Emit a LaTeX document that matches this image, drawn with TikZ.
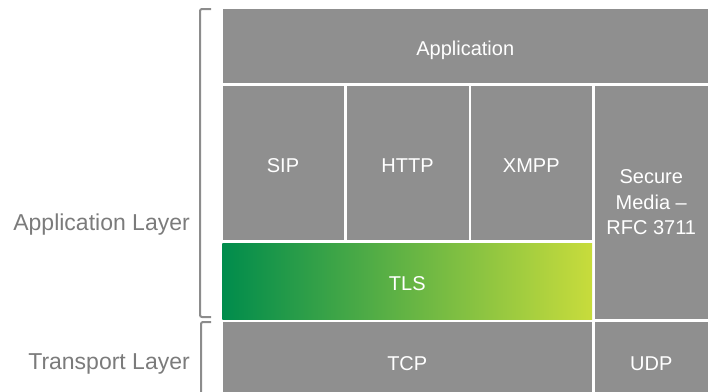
\documentclass[tikz,border=0pt]{standalone}
\usepackage{fontspec}
\setmainfont{Liberation Sans}
\definecolor{blockgray}{HTML}{8F8F8F}
\definecolor{labelgray}{HTML}{7B7B7B}
\definecolor{bracketgray}{HTML}{8C8C8C}
\definecolor{tlsleft}{RGB}{0,140,76}
\definecolor{tlsright}{RGB}{200,220,60}
\tikzset{
  blk/.style={fill=blockgray, draw=none, inner sep=0pt, text=white,
    font=\fontsize{20}{25.5}\selectfont, align=center},
  oneline/.style={text height=20pt, text depth=1.5pt},
  layerlabel/.style={anchor=east, inner sep=0pt, text=labelgray,
    font=\fontsize{23}{27}\selectfont},
  bracket/.style={draw=bracketgray, line width=2pt, rounded corners=2pt}
}
\begin{document}
\begin{tikzpicture}[x=1pt,y=-1pt]
\useasboundingbox (0,0) rectangle (708,391);
\clip (0,0) rectangle (708,391);
% protocol stack blocks
\node[blk, oneline, minimum width=485.5pt, minimum height=74pt] (app) at (465.25,46) {Application};
\node[blk, oneline, minimum width=121pt, minimum height=154pt] (sip) at (283,163) {SIP};
\node[blk, oneline, minimum width=122pt, minimum height=154pt] (http) at (407.5,163) {HTTP};
\node[blk, oneline, minimum width=121.5pt, minimum height=154pt] (xmpp) at (531.25,163) {XMPP};
\node[blk, minimum width=113.5pt, minimum height=233pt] (srtp) at (651.25,202.5) {Secure\\Media –\\RFC 3711};
\node[blk, fill=none, minimum width=369.5pt, minimum height=75.5pt] (tls) at (407.25,281.25) {};
\shade[left color=tlsleft, right color=tlsright] (tls.south west) rectangle (tls.north east);
\node[blk, oneline, fill=none] (tlstext) at (tls.center) {TLS};
\node[blk, oneline, minimum width=369.5pt, minimum height=78pt] (tcp) at (407.25,361) {TCP};
\node[blk, oneline, minimum width=113.5pt, minimum height=78pt] (udp) at (651.25,361) {UDP};
% layer brackets
\coordinate (ua) at (211,9);
\coordinate (ub) at (211,317);
\coordinate (la) at (211,322);
\coordinate (lb) at (201,400);
\draw[bracket] (ua) -- (200,9) -- (200,317) -- (ub);
\draw[bracket] (la) -- (201,322) -- (lb);
% layer labels
\node[layerlabel] (applayer) at (190,225) {Application Layer};
\node[layerlabel] (translayer) at (190,364) {Transport Layer};
\end{tikzpicture}
\end{document}
